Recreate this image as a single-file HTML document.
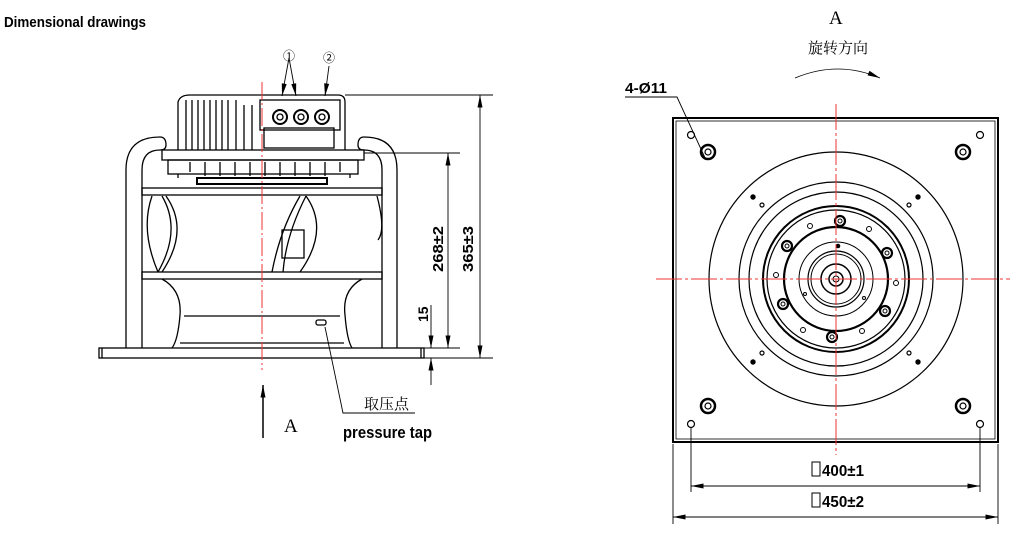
<!DOCTYPE html>
<html><head><meta charset="utf-8"><style>
body{margin:0;background:#fff}
svg{display:block}
text{font-family:"Liberation Sans","Noto Sans CJK SC",sans-serif;fill:#000}
</style></head><body>
<svg width="1023" height="546" viewBox="0 0 1023 546" xmlns="http://www.w3.org/2000/svg">
<defs>
<marker id="ar" viewBox="0 0 10 4" refX="10" refY="2" markerWidth="14" markerHeight="5" markerUnits="userSpaceOnUse" orient="auto-start-reverse"><path d="M0,0 L10,2 L0,4z" fill="#000"/></marker>
</defs>
<text x="4" y="27" font-size="15" font-weight="bold" textLength="142" lengthAdjust="spacingAndGlyphs">Dimensional drawings</text>

<g fill="none" stroke="#000" stroke-width="1.3">
<path d="M178,150 L178,102 Q180,95 190,95 L338,95 Q345,95 345,102 L345,150"/>
<path d="M186,150V100 M192,150V100 M198,150V100 M204,150V100 M210,150V100 M216,150V100 M222,150V100 M228,150V100 M236,150V100 M244,150V105 M252,150V105"/>
<rect x="260" y="100" width="80" height="30"/>
<rect x="264" y="128" width="70" height="20"/>
<circle cx="280" cy="117" r="7" stroke-width="2"/><circle cx="280" cy="117" r="3"/>
<circle cx="301" cy="117" r="7" stroke-width="2"/><circle cx="301" cy="117" r="3"/>
<circle cx="322" cy="117" r="7" stroke-width="2"/><circle cx="322" cy="117" r="3"/>
<rect x="162" y="150" width="202" height="10"/>
<rect x="168" y="160" width="190" height="14"/>
<path d="M178,174V178 M350,174V178 M190,162V172 M205,162V176 M220,162V176 M235,162V176 M250,162V176 M265,162V176 M280,162V176 M295,162V176 M310,162V176 M325,162V176 M340,162V172"/>
<rect x="197" y="178" width="130" height="6" stroke-width="2"/>
<path d="M126,348 V170 Q126,137 160,137 Q166,137 166,145 Q166,150 160,150 Q142,150 142,170 V348"/>
<path d="M397,348 V170 Q397,137 364,137 Q358,137 358,145 Q358,150 364,150 Q382,150 382,170 V348"/>
<rect x="142" y="188" width="240" height="7"/>
<rect x="142" y="272" width="240" height="7"/>
<path d="M152,196 Q140,230 158,272 M162,196 Q182,230 158,272 M166,196 Q190,230 162,272"/>
<path d="M300,196 Q280,230 272,272 M306,196 Q286,235 283,272 M306,196 Q330,230 300,272"/>
<path d="M377,196 Q386,230 378,240"/>
<rect x="282" y="230" width="22" height="28"/>
<path d="M162,279 Q182,290 180,315 Q178,340 172,348 M362,279 Q342,290 345,315 Q347,340 352,348"/>
<path d="M184,316 H340 M180,343 H344"/>
<rect x="316" y="320" width="10" height="5" rx="2"/>
<rect x="99" y="348" width="325" height="10"/>
<path d="M102,348V358 M421,348V358"/>
</g>
<line x1="262" y1="82" x2="262" y2="370" stroke="#e33" stroke-width="1" stroke-dasharray="18,3,2,3"/>

<g stroke="#000" stroke-width="0.9" fill="none">
<line x1="345" y1="95" x2="493" y2="95"/>
<line x1="424" y1="358" x2="493" y2="358"/>
<line x1="364" y1="153" x2="460" y2="153"/>
<line x1="424" y1="348" x2="460" y2="348"/>
<line x1="480" y1="95" x2="480" y2="358" marker-start="url(#ar)" marker-end="url(#ar)"/>
<line x1="448" y1="153" x2="448" y2="348" marker-start="url(#ar)" marker-end="url(#ar)"/>
<line x1="431" y1="305" x2="431" y2="348" marker-end="url(#ar)"/>
<line x1="431" y1="385" x2="431" y2="358" marker-end="url(#ar)"/>
<line x1="289" y1="58" x2="282" y2="96" marker-end="url(#ar)"/>
<line x1="289" y1="58" x2="296" y2="96" marker-end="url(#ar)"/>
<line x1="329" y1="66" x2="325" y2="96" marker-end="url(#ar)"/>
<polyline points="325,327 343,413 415,413"/>
<line x1="263" y1="438" x2="263" y2="385" marker-end="url(#ar)" stroke-width="1.5"/>
</g>
<text x="283" y="60" font-size="12">①</text>
<text x="323" y="62" font-size="12">②</text>
<text transform="translate(443,272) rotate(-90)" font-size="15" font-weight="bold" textLength="46" lengthAdjust="spacingAndGlyphs">268±2</text>
<text transform="translate(473,272) rotate(-90)" font-size="15" font-weight="bold" textLength="46" lengthAdjust="spacingAndGlyphs">365±3</text>
<text transform="translate(428,322) rotate(-90)" font-size="14" font-weight="bold">15</text>
<text x="364" y="409" font-size="15" style="font-family:'Noto Serif CJK SC',serif">取压点</text>
<text x="343" y="438" font-size="17" font-weight="bold" textLength="89" lengthAdjust="spacingAndGlyphs">pressure tap</text>
<text x="284" y="432" font-size="19" style="font-family:'Liberation Serif',serif">A</text>

<text x="829" y="24" font-size="19" style="font-family:'Liberation Serif',serif">A</text>
<text x="808" y="53" font-size="15" style="font-family:'Noto Serif CJK SC',serif">旋转方向</text>
<path d="M795,78 Q838,60 880,78" fill="none" stroke="#000" stroke-width="0.8" marker-end="url(#ar)"/>
<text x="625" y="93" font-size="15" font-weight="bold" textLength="42" lengthAdjust="spacingAndGlyphs">4-Ø11</text>
<polyline points="625,97 677,97 706,160" fill="none" stroke="#000" stroke-width="0.9"/>
<g fill="none" stroke="#000">
<rect x="673" y="118" width="325" height="324" stroke-width="2"/>
<rect x="676" y="121" width="319" height="318" stroke-width="0.8"/>
<circle cx="836" cy="279" r="127" stroke-width="1.2"/>
<circle cx="836" cy="279" r="97" stroke-width="1.2"/>
<circle cx="836" cy="279" r="87" stroke-width="1.2"/>
<circle cx="836" cy="279" r="73" stroke-width="2"/>
<circle cx="836" cy="279" r="69" stroke-width="1.2"/>
<circle cx="836" cy="279" r="52" stroke-width="2.2"/>
<circle cx="836" cy="279" r="37" stroke-width="1"/>
<circle cx="836" cy="279" r="28" stroke-width="1.2"/>
<circle cx="836" cy="279" r="25" stroke-width="1"/>
<circle cx="836" cy="279" r="15" stroke-width="1.5"/>
<circle cx="836" cy="279" r="7" stroke-width="1.5"/>
<circle cx="836" cy="279" r="3" stroke-width="1"/>
<g stroke-width="2.5">
<circle cx="708" cy="152" r="7"/><circle cx="963" cy="152" r="7"/>
<circle cx="708" cy="406" r="7"/><circle cx="963" cy="406" r="7"/>
</g>
<g stroke-width="1.2">
<circle cx="708" cy="152" r="3"/><circle cx="963" cy="152" r="3"/>
<circle cx="708" cy="406" r="3"/><circle cx="963" cy="406" r="3"/>
<circle cx="691" cy="135" r="3.5"/><circle cx="980" cy="135" r="3.5"/>
<circle cx="691" cy="424" r="3.5"/><circle cx="980" cy="424" r="3.5"/>
<circle cx="762" cy="205" r="2"/><circle cx="909" cy="205" r="2"/>
<circle cx="762" cy="353" r="2"/><circle cx="909" cy="353" r="2"/>
</g>
<g stroke-width="2.2">
<circle cx="840" cy="221" r="5"/><circle cx="887" cy="253" r="5"/>
<circle cx="885" cy="311" r="5"/><circle cx="832" cy="337" r="5"/>
<circle cx="783" cy="304" r="5"/><circle cx="787" cy="246" r="5"/>
</g>
<g stroke-width="1">
<circle cx="840" cy="221" r="2"/><circle cx="887" cy="253" r="2"/>
<circle cx="885" cy="311" r="2"/><circle cx="832" cy="337" r="2"/>
<circle cx="783" cy="304" r="2"/><circle cx="787" cy="246" r="2"/>
<circle cx="810" cy="226" r="2.5"/><circle cx="869" cy="229" r="2.5"/>
<circle cx="776" cy="275" r="2.5"/><circle cx="896" cy="283" r="2.5"/>
<circle cx="803" cy="330" r="2.5"/><circle cx="862" cy="331" r="2.5"/>
<circle cx="805" cy="294" r="1.5"/><circle cx="864" cy="298" r="1.5"/>
</g>
</g>
<g fill="#000">
<circle cx="753" cy="197" r="2.7"/><circle cx="918" cy="197" r="2.7"/>
<circle cx="753" cy="362" r="2.7"/><circle cx="918" cy="362" r="2.7"/>
<circle cx="838" cy="246" r="2.3"/>
</g>
<g stroke="#e33" stroke-width="1" stroke-dasharray="26,3,3,3">
<line x1="836" y1="104" x2="836" y2="455"/>
<line x1="656" y1="279" x2="1010" y2="279"/>
</g>
<g stroke="#000" stroke-width="0.9" fill="none">
<line x1="691" y1="428" x2="691" y2="492"/>
<line x1="980" y1="428" x2="980" y2="492"/>
<line x1="673" y1="444" x2="673" y2="524"/>
<line x1="998" y1="444" x2="998" y2="524"/>
<line x1="691" y1="486" x2="980" y2="486" marker-start="url(#ar)" marker-end="url(#ar)"/>
<line x1="673" y1="517" x2="998" y2="517" marker-start="url(#ar)" marker-end="url(#ar)"/>
<rect x="812" y="462" width="8" height="14" stroke-width="1"/>
<rect x="812" y="493" width="8" height="14" stroke-width="1"/>
</g>
<text x="822" y="476" font-size="16" font-weight="bold" textLength="42" lengthAdjust="spacingAndGlyphs">400±1</text>
<text x="822" y="507" font-size="16" font-weight="bold" textLength="42" lengthAdjust="spacingAndGlyphs">450±2</text>
</svg>
</body></html>
